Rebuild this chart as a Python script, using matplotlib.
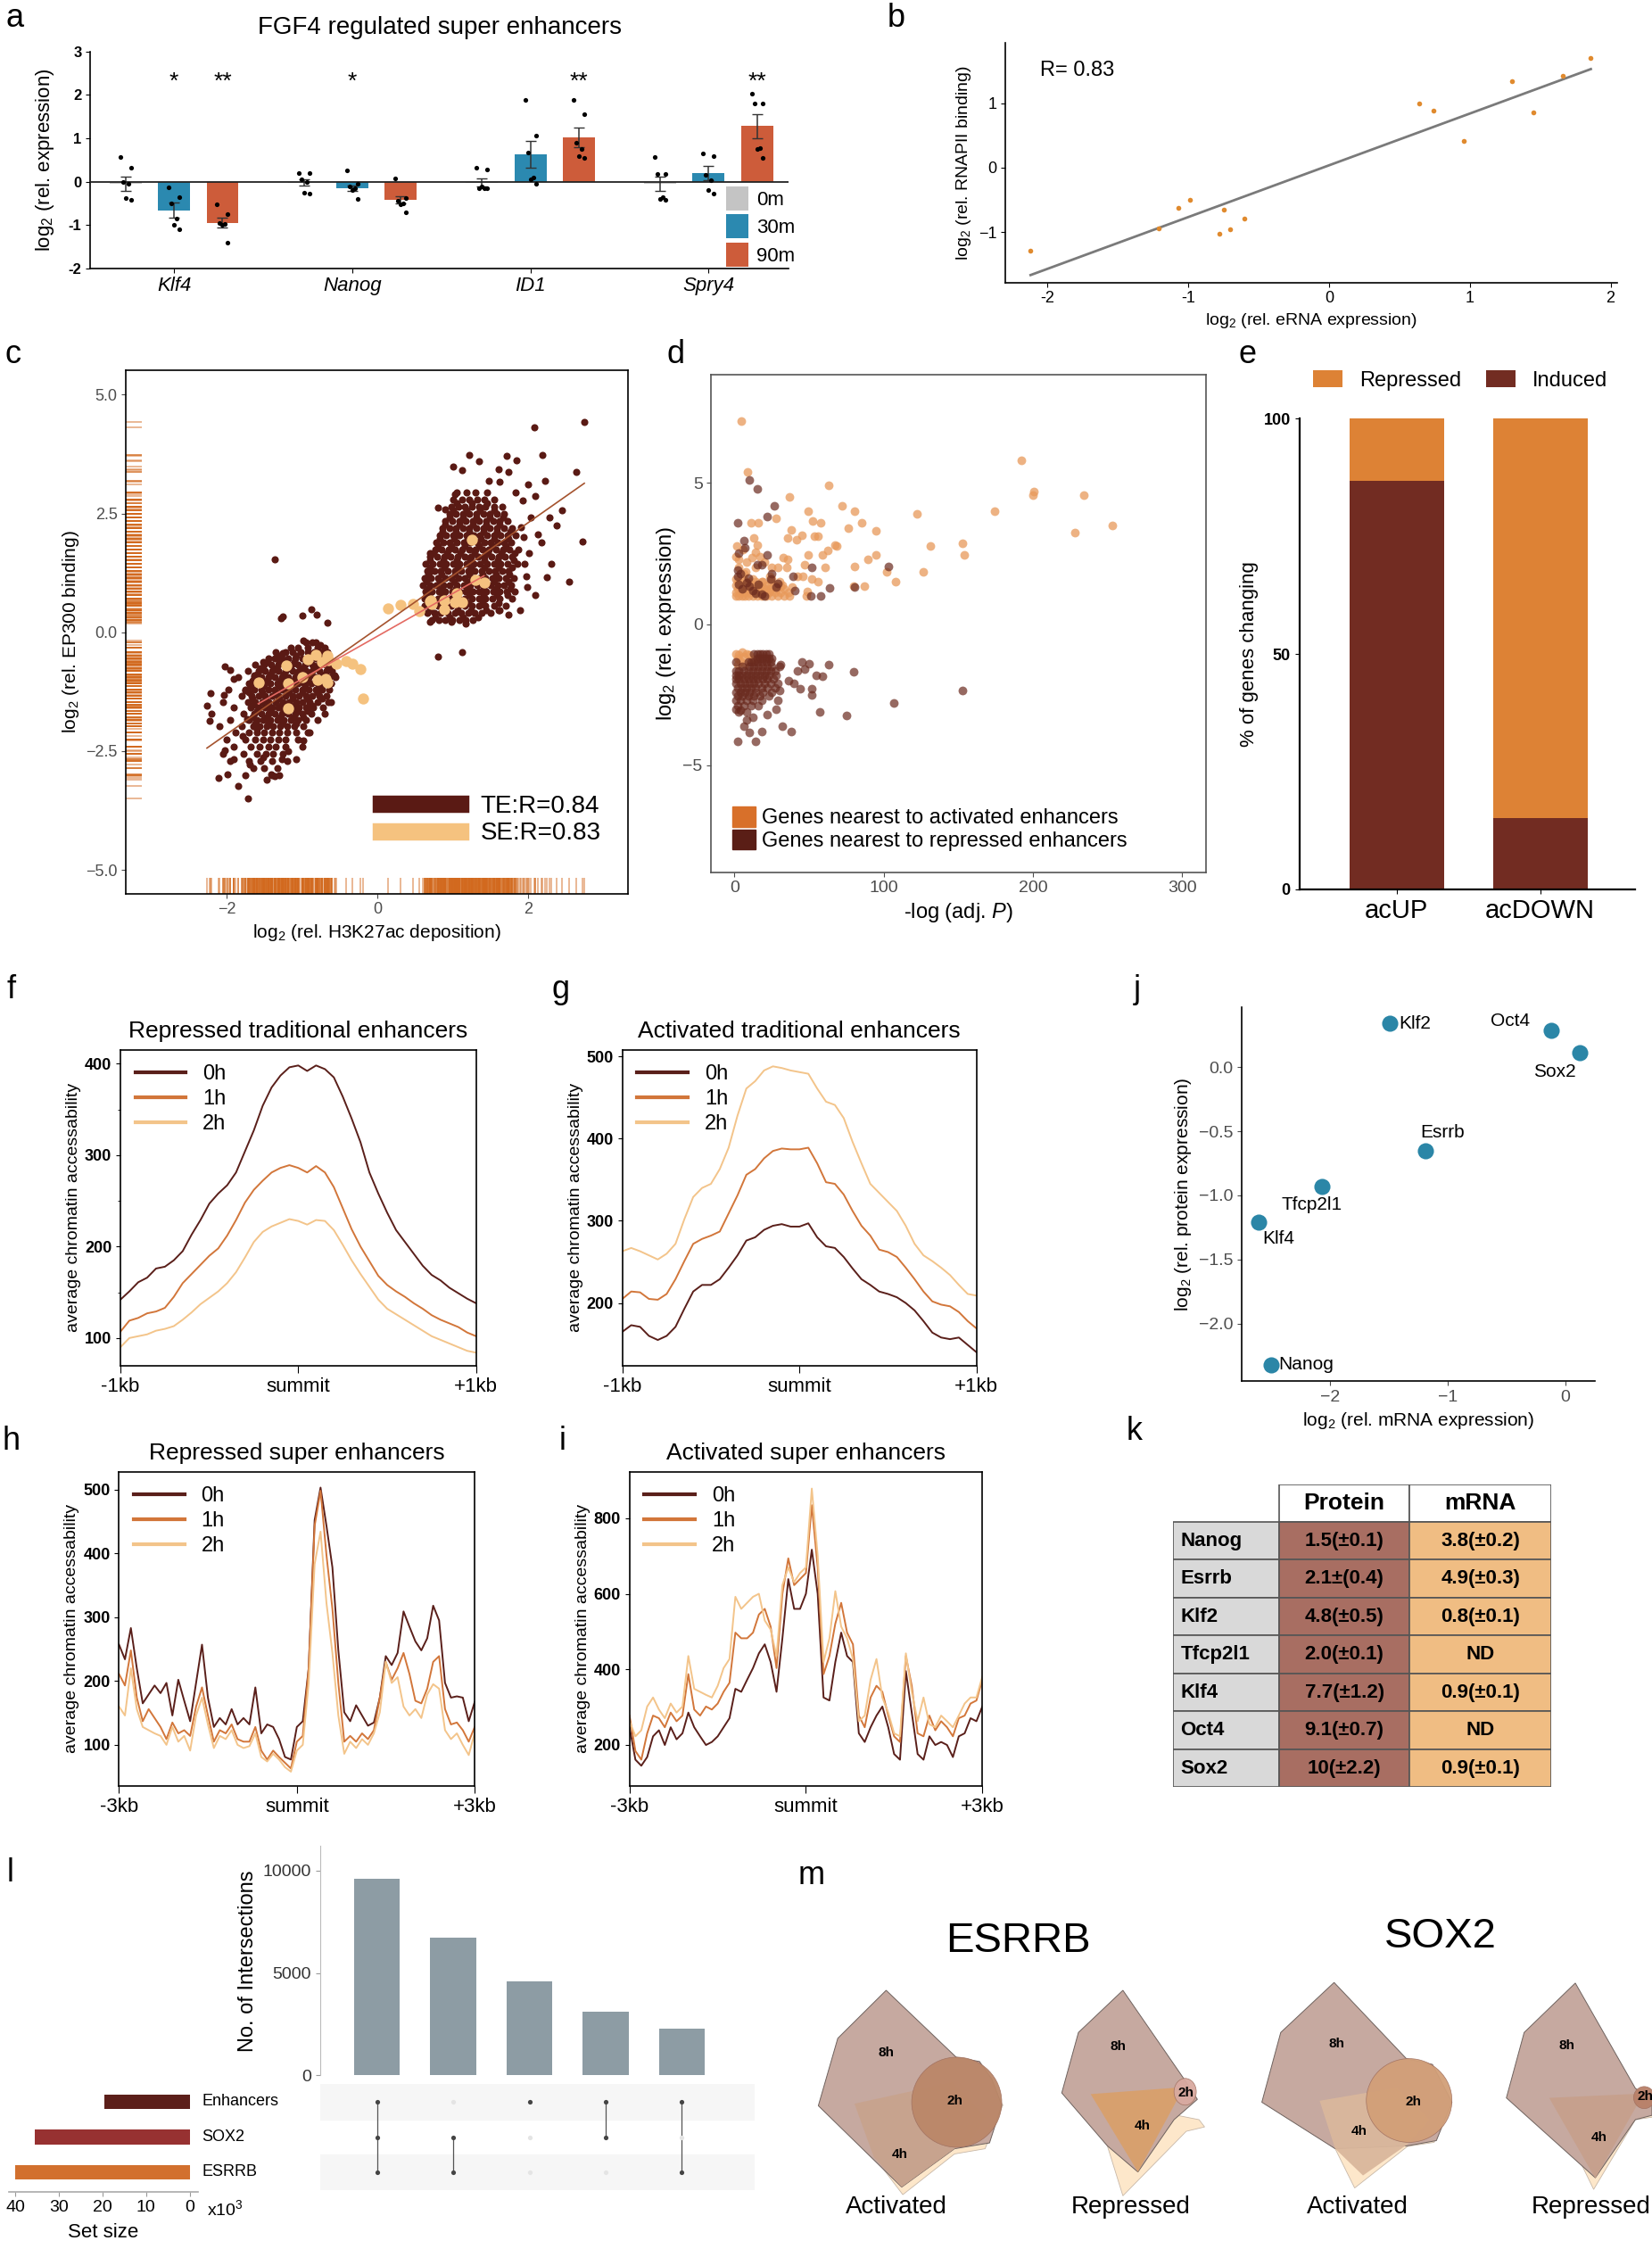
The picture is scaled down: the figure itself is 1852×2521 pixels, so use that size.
import numpy as np
import matplotlib
matplotlib.use("Agg")
import matplotlib.pyplot as plt
from matplotlib.patches import Patch, Polygon, Ellipse
from matplotlib.lines import Line2D
from matplotlib.ticker import FuncFormatter

plt.rcParams['font.family'] = ['Liberation Sans', 'DejaVu Sans']
plt.rcParams['mathtext.fontset'] = 'custom'
plt.rcParams['mathtext.rm'] = 'Liberation Sans'
plt.rcParams['mathtext.it'] = 'Liberation Sans:italic'
plt.rcParams['axes.linewidth'] = 1.2

# ---------------- data ----------------
# a: FGF4 regulated super enhancers
a_genes = ['Klf4', 'Nanog', 'ID1', 'Spry4']
a_times = ['0m', '30m', '90m']
mean_0m = [-0.05, -0.02, -0.02, -0.05]
mean_30m = [-0.66, -0.15, 0.62, 0.20]
mean_90m = [-0.95, -0.42, 1.02, 1.28]
sem_0m = [0.17, 0.08, 0.10, 0.16]
sem_30m = [0.17, 0.06, 0.31, 0.16]
sem_90m = [0.12, 0.08, 0.22, 0.27]
dots_0m = [[0.57, 0.33, 0.0, -0.05, -0.38, -0.42], [0.2, 0.2, 0.05, 0.0, -0.25, -0.28],
           [0.33, 0.28, -0.15, -0.15, -0.12, -0.16], [0.56, 0.17, 0.17, -0.35, -0.4, -0.42]]
dots_30m = [[-0.14, -0.35, -0.5, -0.85, -1.0, -1.1], [0.25, -0.05, -0.12, -0.15, -0.2, -0.4],
            [1.88, 1.07, 0.68, 0.1, 0.05, -0.05], [0.65, 0.58, 0.15, 0.03, -0.2, -0.28]]
dots_90m = [[-0.53, -0.75, -0.95, -0.98, -1.0, -1.41], [0.07, -0.38, -0.45, -0.5, -0.52, -0.7],
            [1.88, 1.55, 0.9, 0.75, 0.58, 0.55], [2.02, 1.8, 1.8, 0.77, 0.75, 0.55]]
a_stars = [['', '*', '**'], ['', '*', ''], ['', '', '**'], ['', '', '**']]

# b: eRNA vs RNAPII
b_x = [-2.12, -1.21, -1.07, -0.99, -0.78, -0.75, -0.70, -0.60, 0.64, 0.74, 0.96, 1.30, 1.45, 1.66, 1.86]
b_y = [-1.28, -0.94, -0.62, -0.50, -1.03, -0.65, -0.96, -0.79, 1.00, 0.89, 0.42, 1.34, 0.85, 1.42, 1.70]

# c: H3K27ac vs EP300 (TE rows: y level, x values)
c_te_lo_rows = [
    (-0.22, [-0.95, -0.82]),
    (-0.32, [-1.15, -1.05, -0.92, -0.80, -0.70]),
    (-0.42, [-1.35, -1.22, -1.12, -1.02, -0.93, -0.84, -0.75, -0.66]),
    (-0.49, [-1.3, -1.08, -0.88, -0.7]),
    (-0.55, [-1.45, -1.36, -1.27, -1.18, -1.09, -1.0, -0.91, -0.82, -0.73, -0.64]),
    (-0.62, [-1.52, -1.3, -1.1, -0.9, -0.68]),
    (-0.68, [-1.62, -1.5, -1.41, -1.32, -1.23, -1.14, -1.05, -0.96, -0.87, -0.78, -0.69, -0.6]),
    (-0.75, [-1.55, -1.35, -1.17, -0.99, -0.81, -0.64]),
    (-0.81, [-1.72, -1.58, -1.49, -1.4, -1.31, -1.22, -1.13, -1.04, -0.95, -0.86, -0.77, -0.68, -0.6]),
    (-0.88, [-1.6, -1.42, -1.24, -1.06, -0.88, -0.7]),
    (-0.94, [-1.85, -1.63, -1.54, -1.45, -1.36, -1.27, -1.18, -1.09, -1.0, -0.91, -0.82, -0.73, -0.64, -0.56]),
    (-1.01, [-1.66, -1.47, -1.29, -1.11, -0.93, -0.75]),
    (-1.07, [-1.7, -1.6, -1.51, -1.42, -1.33, -1.24, -1.15, -1.06, -0.97, -0.88, -0.79, -0.7, -0.62]),
    (-1.14, [-1.68, -1.5, -1.32, -1.14, -0.96, -0.77]),
    (-1.20, [-1.98, -1.75, -1.63, -1.54, -1.45, -1.36, -1.27, -1.18, -1.09, -1.0, -0.91, -0.82, -0.73, -0.64]),
    (-1.27, [-1.71, -1.53, -1.35, -1.17, -0.99, -0.8]),
    (-1.33, [-1.8, -1.67, -1.58, -1.49, -1.4, -1.31, -1.22, -1.13, -1.04, -0.95, -0.86, -0.77, -0.68]),
    (-1.40, [-1.66, -1.48, -1.3, -1.12, -0.94, -0.74]),
    (-1.46, [-2.05, -1.72, -1.62, -1.53, -1.44, -1.35, -1.26, -1.17, -1.08, -0.99, -0.9, -0.8, -0.62]),
    (-1.53, [-1.64, -1.45, -1.27, -1.09, -0.9]),
    (-1.59, [-1.9, -1.68, -1.58, -1.49, -1.4, -1.31, -1.22, -1.13, -1.04, -0.95, -0.85, -0.72]),
    (-1.66, [-1.6, -1.42, -1.24, -1.06, -0.92]),
    (-1.72, [-2.2, -1.78, -1.63, -1.54, -1.45, -1.36, -1.27, -1.18, -1.09, -1.0, -0.88]),
    (-1.79, [-1.66, -1.47, -1.29, -1.11, -0.98]),
    (-1.85, [-1.95, -1.7, -1.6, -1.51, -1.42, -1.33, -1.24, -1.15, -1.06, -0.95, -0.8]),
    (-1.92, [-1.62, -1.44, -1.26, -1.08]),
    (-1.98, [-2.1, -1.8, -1.65, -1.56, -1.47, -1.38, -1.29, -1.2, -1.1, -0.98]),
    (-2.11, [-1.88, -1.7, -1.6, -1.5, -1.4, -1.3, -1.2, -1.08, -0.9]),
    (-2.25, [-2.0, -1.75, -1.62, -1.52, -1.42, -1.32, -1.22, -1.05]),
    (-2.40, [-1.9, -1.68, -1.56, -1.45, -1.35, -1.22, -1.0]),
    (-2.55, [-2.05, -1.78, -1.6, -1.48, -1.38, -1.25]),
    (-2.70, [-1.95, -1.7, -1.55, -1.4, -1.2]),
    (-2.85, [-1.65, -1.5, -1.33]),
    (-3.00, [-1.75, -1.4, -1.3]),
]
c_te_hi_rows = [
    (0.25, [0.72, 0.81, 0.9, 0.99, 1.08, 1.17, 1.26]),
    (0.32, [0.77, 0.95, 1.13, 1.33]),
    (0.40, [0.66, 0.75, 0.84, 0.93, 1.02, 1.11, 1.2, 1.29, 1.38, 1.5]),
    (0.47, [0.7, 0.88, 1.06, 1.24, 1.44, 1.62]),
    (0.55, [0.62, 0.71, 0.8, 0.89, 0.98, 1.07, 1.16, 1.25, 1.34, 1.43, 1.55, 1.7]),
    (0.62, [0.66, 0.85, 1.03, 1.2, 1.39, 1.6]),
    (0.70, [0.62, 0.71, 0.8, 0.89, 0.98, 1.07, 1.16, 1.25, 1.34, 1.43, 1.52, 1.62, 1.78]),
    (0.78, [0.68, 0.86, 1.02, 1.21, 1.4, 1.58, 1.72]),
    (0.85, [0.63, 0.72, 0.81, 0.9, 0.99, 1.08, 1.17, 1.26, 1.35, 1.44, 1.53, 1.62, 1.71, 1.82]),
    (0.92, [0.67, 0.85, 1.04, 1.22, 1.4, 1.57, 1.76]),
    (1.00, [0.6, 0.69, 0.78, 0.87, 0.96, 1.05, 1.14, 1.23, 1.32, 1.41, 1.5, 1.59, 1.68, 1.77]),
    (1.07, [0.65, 0.83, 1.01, 1.19, 1.37, 1.55, 1.73]),
    (1.15, [0.62, 0.71, 0.8, 0.89, 0.98, 1.07, 1.16, 1.25, 1.34, 1.43, 1.52, 1.61, 1.7, 1.8]),
    (1.22, [0.67, 0.85, 1.03, 1.21, 1.39, 1.57, 1.75]),
    (1.30, [0.66, 0.75, 0.84, 0.93, 1.02, 1.11, 1.2, 1.29, 1.38, 1.47, 1.56, 1.65, 1.74]),
    (1.37, [0.7, 0.88, 1.06, 1.24, 1.42, 1.6, 1.78]),
    (1.45, [0.64, 0.73, 0.82, 0.91, 1.0, 1.09, 1.18, 1.27, 1.36, 1.45, 1.54, 1.63, 1.72, 1.85]),
    (1.52, [0.69, 0.87, 1.05, 1.23, 1.41, 1.59, 1.8]),
    (1.60, [0.7, 0.79, 0.88, 0.97, 1.06, 1.15, 1.24, 1.33, 1.42, 1.51, 1.6, 1.69, 1.78]),
    (1.67, [0.74, 0.92, 1.1, 1.28, 1.46, 1.64, 1.82]),
    (1.75, [0.76, 0.85, 0.94, 1.03, 1.12, 1.21, 1.3, 1.39, 1.48, 1.57, 1.66, 1.75, 1.86]),
    (1.82, [0.8, 0.98, 1.16, 1.34, 1.52, 1.7]),
    (1.90, [0.78, 0.87, 0.96, 1.05, 1.14, 1.23, 1.32, 1.41, 1.5, 1.59, 1.68, 1.77]),
    (1.97, [0.83, 1.01, 1.19, 1.37, 1.55, 1.74]),
    (2.05, [0.82, 0.91, 1.0, 1.09, 1.18, 1.27, 1.36, 1.45, 1.54, 1.63, 1.72, 1.83]),
    (2.12, [0.86, 1.04, 1.22, 1.4, 1.58, 1.76]),
    (2.20, [0.86, 0.95, 1.04, 1.13, 1.22, 1.31, 1.4, 1.49, 1.58, 1.67, 1.78]),
    (2.27, [0.9, 1.08, 1.26, 1.44, 1.62]),
    (2.35, [0.9, 0.99, 1.08, 1.17, 1.26, 1.35, 1.44, 1.53, 1.62, 1.72]),
    (2.42, [0.95, 1.13, 1.31, 1.49, 1.66]),
    (2.50, [0.95, 1.04, 1.13, 1.22, 1.31, 1.4, 1.49, 1.58, 1.68]),
    (2.57, [1.0, 1.18, 1.36, 1.54]),
    (2.65, [0.98, 1.07, 1.16, 1.25, 1.34, 1.43, 1.55, 1.65]),
    (2.72, [1.05, 1.25, 1.45]),
    (2.80, [1.0, 1.12, 1.22, 1.32, 1.42, 1.55]),
    (2.95, [1.05, 1.18, 1.3, 1.45]),
]
c_te_extra = [
    (-2.26, -1.55), (-2.21, -1.29), (-2.22, -1.87), (-2.02, -0.72), (-1.95, -0.79), (-2.03, -1.32),
    (-1.90, -0.99), (-2.02, -2.49), (-2.11, -3.06), (-1.99, -2.99), (-1.85, -3.23), (-1.72, -3.50),
    (-1.91, -2.67), (-1.79, -2.19), (-1.73, -1.83), (-1.69, -2.79), (-1.60, -2.03), (-1.52, -2.63),
    (-1.47, -3.11), (-1.41, -2.99), (-1.36, -3.03), (-1.27, -2.67), (-1.19, -2.51), (-1.08, -2.67),
    (-0.98, -2.27), (-0.92, -2.11), (-0.87, -1.55), (-0.70, -1.71), (-0.65, -1.47), (-0.62, -1.07),
    (-0.57, -0.91), (-0.60, -0.67), (-0.76, -0.26), (-0.87, -0.22), (-0.98, -0.18), (-1.25, -0.43),
    (-1.46, -0.63), (-1.63, -0.91), (-1.75, -1.23), (-1.36, 1.54), (-1.28, 0.30), (-1.26, 0.33),
    (-1.00, 0.35), (-0.88, 0.48), (-0.81, 0.38), (-0.67, 0.20), (0.80, -0.51), (1.12, -0.41),
    (0.80, 2.62), (0.89, 2.58), (1.03, 2.90), (1.00, 3.49), (1.12, 3.41), (1.22, 3.74), (1.34, 3.61),
    (1.71, 3.72), (1.84, 3.62), (1.60, 3.44), (1.73, 3.38), (1.48, 3.18), (1.62, 3.17), (1.83, 2.94),
    (2.00, 3.12), (2.09, 2.86), (2.22, 3.18), (2.18, 3.74), (2.08, 4.32), (2.63, 3.37), (2.74, 4.43),
    (2.44, 2.56), (2.37, 2.25), (2.28, 2.42), (2.12, 2.06), (2.17, 1.90), (2.30, 1.44), (2.24, 1.16),
    (2.09, 0.79), (2.54, 1.06), (2.72, 1.92), (1.97, 1.18), (1.89, 0.46), (1.73, 0.38), (1.60, 0.46),
    (0.70, 1.66), (0.68, 1.26), (0.65, 0.78), (0.70, 0.22), (0.84, 0.86), (0.98, 0.22), (1.17, 0.18),
    (2.01, 1.66), (1.90, 2.22), (2.03, 2.42), (1.92, 2.78), (1.95, 1.45), (1.98, 0.95), (1.93, 2.0),
]
c_se = [
    (-1.58, -1.05), (-1.21, -0.69), (-1.19, -1.07), (-1.18, -1.60), (-0.99, -0.95), (-0.93, -0.56),
    (-0.82, -0.47), (-0.80, -1.00), (-0.74, -0.63), (-0.67, -0.49), (-0.65, -0.59), (-0.69, -0.99),
    (-0.66, -1.05), (-0.55, -0.67), (-0.42, -0.61), (-0.33, -0.67), (-0.23, -0.77), (-0.19, -1.40),
    (0.14, 0.50), (0.31, 0.57), (0.47, 0.59), (0.55, 0.44), (0.71, 0.68), (0.72, 0.60), (0.88, 0.49),
    (0.88, 0.68), (1.03, 0.64), (1.05, 0.83), (1.12, 0.64), (1.25, 1.94), (1.30, 1.10), (1.41, 1.04),
    (0.70, 0.66),
]

# d: expression vs significance
d_act = [
    (4.2, 7.2), (8.9, 5.4), (36.7, 4.5), (62.8, 4.9), (71.9, 4.2), (80.5, 4.0), (49.2, 4.0), (122, 3.9),
    (174, 4.0), (192, 5.8), (200.5, 4.7), (200, 4.55), (234, 4.55), (228, 3.25), (253, 3.5), (153, 2.85),
    (154, 2.45), (131, 2.75), (126.5, 1.85), (108, 1.5), (102, 1.85), (94.5, 3.3), (94.5, 2.45),
    (89.6, 2.3), (85, 3.6), (80.5, 2.05), (80, 1.35), (87, 1.35), (76.3, 3.4), (67.2, 2.8), (68.5, 2.75),
    (62.5, 2.6), (60.4, 2.0), (58.9, 2.45), (58, 3.6), (52.6, 3.65), (56, 3.1), (53.6, 3.1), (49.2, 2.45),
    (47, 2.1), (56, 1.5), (51.8, 1.6), (45, 3.15), (46, 1.7), (42, 1.7), (41.7, 3.0), (48.7, 1.15),
    (48, 1.0), (35.7, 3.06), (37.8, 3.33), (38.3, 1.32), (35, 2.0), (35.4, 2.3), (32.6, 2.35), (31, 1.35),
    (28, 3.75), (29, 2.02), (23.4, 1.7), (24.7, 2.0), (16, 3.6), (11, 3.6), (12.8, 3.06), (15.4, 2.8),
    (14, 2.55), (11.5, 2.34), (7.3, 1.85), (5.5, 2.65), (1.6, 2.77), (2.6, 2.3), (6.3, 1.8), (15.4, 1.3),
    (21, 1.26), (23.4, 1.15), (20, 2.2), (17, 2.4), (3, 2.0), (8, 2.2), (1, 1.6), (6, 1.55), (12, 1.6),
    (18, 1.5), (25, 1.6), (1, 2.4), (14, 2.0),
    (1, -1.05), (3, -1.1), (5, -1.0), (2, -1.2), (4, -1.3), (6, -1.15), (8, -1.05), (2, -1.45),
    (10, -1.1), (12, -1.25), (7, -1.4),
]
d_act_rows = [
    (1.0, [1, 3, 5, 7, 9, 12, 15, 18, 21, 25, 29, 33, 37]),
    (1.12, [1, 4, 7, 10, 13, 16, 19, 23, 27, 31, 36]),
    (1.25, [2, 5, 8, 11, 14, 17, 20, 24, 28, 33]),
    (1.38, [1, 4, 7, 10, 13, 17, 22, 27, 32]),
    (1.5, [2, 6, 10, 14, 19, 24, 30]),
]
d_rep = [
    (9.6, 5.1), (15, 4.8), (26.6, 4.2), (103, 2.05), (80.2, 1.3), (63.5, 1.27), (51.6, 2.0), (40.4, 1.2),
    (51.3, 1.0), (57.6, 1.0), (39, 1.68), (29, 1.45), (25, 1.8), (22, 3.8), (22, 2.45), (15.4, 2.1),
    (18.5, 2.1), (6, 2.95), (7, 2.7), (2.3, 3.57), (2.6, 2.5), (2.3, 1.9), (9, 1.63), (8, 1.46), (10, 1.35),
    (18.2, 1.05), (3, 1.4), (5, 1.25), (14, 1.1), (16, 1.4), (24, 1.6), (28, 1.3), (4, 1.8), (2, 1.7),
    (12, 1.2), (20, 1.0),
    (153, -2.35), (107, -2.8), (75, -3.25), (57, -3.1), (80, -1.7), (63, -1.45), (59, -1.85), (55, -1.8),
    (52, -2.3), (52, -2.5), (50, -1.4), (47, -1.6), (45, -1.35), (44, -2.3), (42, -1.65), (40, -2.1),
    (38, -3.8), (36, -2.0), (32, -3.6), (31, -1.45), (30, -2.35), (29, -2.7), (28, -3.0), (22, -3.2),
    (18, -3.8), (14, -4.15), (10, -3.85), (6, -3.6), (2, -4.15), (8, -3.4), (12, -3.3), (4, -3.05),
    (1, -3.0),
]
d_rep_rows = [
    (-1.05, [13, 15, 17, 19, 21, 23]),
    (-1.2, [15, 17, 19, 21, 23, 25]),
    (-1.35, [1, 9, 11, 13, 15, 18, 21, 24]),
    (-1.5, [5, 10, 13, 16, 19, 22, 25, 30]),
    (-1.65, [1, 3, 6, 9, 12, 15, 18, 21, 24, 27]),
    (-1.8, [1, 3, 5, 8, 11, 14, 17, 20, 23, 28]),
    (-1.95, [1, 3, 6, 9, 12, 15, 19, 22, 26]),
    (-2.1, [1, 4, 7, 10, 13, 16, 20, 24, 29]),
    (-2.25, [2, 5, 8, 11, 14, 18, 22, 27]),
    (-2.4, [1, 4, 7, 10, 14, 19, 25]),
    (-2.55, [2, 5, 9, 13, 17, 23]),
    (-2.7, [1, 4, 8, 12, 18]),
    (-2.9, [2, 6, 11, 16]),
    (-3.1, [3, 8]),
]

# e: % of genes changing
e_groups = ['acUP', 'acDOWN']
e_induced = [86.9, 15.1]
e_repressed = [13.1, 84.9]

# f-i: accessibility profiles
f_0h = [142, 151, 161, 166, 176, 178, 185, 195, 213, 229, 247, 258, 267, 281, 304, 327, 354, 374, 387, 396,
        398, 392, 398, 394, 385, 364, 340, 314, 281, 258, 237, 218, 205, 192, 179, 169, 163, 155, 149, 143, 138]
f_1h = [107, 119, 122, 127, 129, 133, 145, 160, 170, 180, 190, 198, 212, 229, 248, 262, 272, 281, 286, 289,
        286, 281, 288, 281, 265, 242, 219, 200, 184, 168, 158, 151, 145, 138, 132, 125, 120, 116, 112, 106, 102]
f_2h = [90, 100, 102, 104, 108, 110, 113, 120, 128, 137, 144, 151, 160, 172, 188, 205, 216, 222, 226, 230,
        228, 224, 229, 228, 218, 202, 185, 170, 156, 142, 132, 126, 120, 114, 108, 102, 98, 94, 90, 86, 84]
g_0h = [165, 173, 171, 160, 155, 160, 171, 193, 214, 222, 222, 229, 243, 258, 276, 280, 289, 294, 296, 293,
        293, 297, 280, 269, 267, 256, 242, 229, 222, 214, 211, 207, 200, 191, 178, 164, 158, 156, 158, 149, 140]
g_1h = [205, 214, 213, 205, 204, 211, 229, 251, 272, 278, 282, 287, 309, 331, 356, 363, 376, 385, 388, 387,
        387, 389, 370, 347, 345, 332, 312, 294, 282, 265, 262, 256, 243, 229, 214, 202, 198, 196, 189, 178, 169]
g_2h = [263, 267, 263, 258, 253, 260, 272, 302, 329, 340, 345, 363, 389, 428, 461, 470, 483, 488, 486, 483,
        481, 479, 461, 445, 441, 425, 396, 370, 345, 334, 323, 312, 294, 272, 258, 251, 243, 234, 222, 211, 209]
h_0h = [257, 234, 283, 220, 165, 179, 193, 181, 197, 146, 202, 169, 137, 197, 257, 174, 128, 142, 132, 156,
        132, 142, 132, 190, 118, 132, 128, 109, 81, 77, 128, 137, 220, 452, 503, 443, 378, 248, 151, 137,
        162, 146, 130, 135, 174, 239, 225, 244, 309, 285, 262, 248, 267, 318, 295, 197, 174, 176, 174, 137, 167]
h_1h = [211, 193, 248, 174, 137, 156, 142, 128, 109, 135, 118, 123, 114, 160, 190, 146, 105, 123, 118, 132,
        109, 105, 105, 128, 91, 77, 91, 81, 72, 63, 105, 114, 220, 443, 498, 397, 313, 197, 105, 114,
        105, 118, 109, 123, 174, 230, 202, 220, 244, 211, 169, 165, 188, 230, 239, 156, 132, 135, 123, 105, 128]
h_2h = [160, 146, 220, 156, 128, 123, 118, 114, 100, 128, 105, 114, 91, 146, 174, 132, 95, 114, 109, 123,
        100, 95, 98, 118, 81, 74, 86, 77, 65, 58, 91, 100, 197, 383, 434, 322, 244, 146, 86, 105,
        95, 109, 100, 118, 151, 230, 197, 206, 160, 146, 156, 142, 179, 195, 188, 123, 109, 118, 100, 84, 118]
i_0h = [246, 160, 144, 167, 222, 238, 199, 246, 214, 230, 285, 246, 222, 199, 207, 222, 246, 270, 348, 340,
        372, 403, 442, 466, 419, 340, 482, 639, 560, 560, 600, 717, 600, 325, 317, 419, 497, 435, 419, 230,
        207, 246, 277, 301, 246, 175, 160, 395, 285, 175, 160, 222, 199, 207, 199, 167, 222, 230, 270, 262, 301]
i_1h = [277, 183, 160, 230, 277, 270, 246, 285, 262, 277, 387, 293, 277, 301, 293, 309, 340, 364, 497, 482,
        482, 497, 545, 560, 513, 403, 600, 694, 623, 639, 655, 835, 670, 387, 435, 521, 576, 497, 466, 277,
        246, 325, 356, 340, 277, 222, 207, 435, 356, 230, 222, 277, 238, 262, 246, 222, 270, 277, 309, 317, 372]
i_2h = [262, 222, 238, 301, 325, 293, 270, 309, 285, 301, 435, 348, 340, 332, 325, 356, 403, 427, 592, 560,
        576, 592, 600, 529, 505, 435, 623, 670, 631, 655, 670, 879, 702, 419, 482, 607, 513, 482, 427, 262,
        277, 372, 427, 325, 285, 230, 222, 442, 340, 262, 325, 254, 246, 277, 262, 246, 277, 309, 325, 325, 380]

# j: mRNA vs protein
j_genes = ['Klf2', 'Oct4', 'Sox2', 'Esrrb', 'Tfcp2l1', 'Klf4', 'Nanog']
j_mrna = [-1.49, -0.12, 0.12, -1.19, -2.07, -2.61, -2.50]
j_protein = [0.34, 0.29, 0.11, -0.655, -0.93, -1.21, -2.32]

# k: half-life table
k_genes = ['Nanog', 'Esrrb', 'Klf2', 'Tfcp2l1', 'Klf4', 'Oct4', 'Sox2']
k_protein = ['1.5(±0.1)', '2.1±(0.4)', '4.8(±0.5)', '2.0(±0.1)', '7.7(±1.2)', '9.1(±0.7)', '10(±2.2)']
k_mrna = ['3.8(±0.2)', '4.9(±0.3)', '0.8(±0.1)', 'ND', '0.9(±0.1)', 'ND', '0.9(±0.1)']

# l: upset
l_sets = ['Enhancers', 'SOX2', 'ESRRB']
l_set_size = [19.6, 35.6, 40.0]   # x10^3
l_counts = [9620, 6740, 4570, 3120, 2270]
l_members = [[1, 1, 1], [0, 1, 1], [1, 0, 0], [1, 1, 0], [1, 0, 1]]

# m: overlap shapes (ESRRB act, ESRRB rep, SOX2 act, SOX2 rep)
m_cream = [
    [(165, 1140), (212, 1258), (305, 1118), (360, 1100), (392, 950), (350, 800), (300, 870)],
    [(560, 930), (745, 1000), (755, 1025), (722, 1040), (608, 1262), (580, 1090)],
    [(990, 1100), (1025, 1235), (1120, 1092), (1168, 1078), (1200, 940), (1100, 890)],
    [(1375, 925), (1455, 1240), (1530, 1000), (1565, 990), (1560, 940)],
]
m_8h = [
    [(182, 555), (308, 785), (350, 800), (372, 860), (390, 950), (368, 1080), (305, 1100), (210, 1232), (60, 952), (95, 720)],
    [(608, 555), (718, 860), (742, 930), (700, 1000), (635, 1180), (580, 1090), (498, 908), (528, 700)],
    [(988, 528), (1118, 790), (1165, 810), (1200, 940), (1172, 1072), (1120, 1090), (990, 1100), (858, 940), (892, 700)],
    [(1422, 530), (1530, 892), (1560, 935), (1560, 985), (1530, 1000), (1458, 1200), (1298, 925), (1330, 700)],
]
m_4h = [
    [(125, 945), (300, 872), (360, 990), (330, 1080), (305, 1100), (210, 1232), (160, 1130)],
    [(550, 912), (718, 888), (635, 1180)],
    [(962, 935), (1100, 890), (1160, 1000), (1120, 1085), (1040, 1192), (990, 1100)],
    [(1375, 925), (1545, 910), (1458, 1202)],
]
m_2h_center = [(309, 940), (720, 904), (1123, 934), (1546, 924)]
m_2h_size = [(162, 310), (40, 92), (154, 288), (38, 76)]
m_label_8h = [(182, 770), (600, 748), (993, 740), (1407, 745)]
m_label_4h = [(207, 1120), (643, 1020), (1033, 1040), (1465, 1060)]
m_label_2h = [(305, 935), (722, 908), (1130, 940), (1548, 920)]
m_4h_colors = ['#c8a38e', '#d9a06c', '#dab79c', '#c6a08c']
m_2h_colors = ['#bb8768', '#d8aaa0', '#d29f78', '#b98068']

# ---------------- drawing ----------------
W, H = 1152.0, 1568.0


def box(l, t, r, b):
    return [l / W, 1 - b / H, (r - l) / W, (b - t) / H]


def minus(fmt):
    return FuncFormatter(lambda v, p: fmt.format(v).replace('-', '\u2212'))


fig = plt.figure(figsize=(18.52, 25.21), dpi=100)

for lab, (px, py) in {'a': (10, 13), 'b': (625, 13), 'c': (9, 247), 'd': (471, 247), 'e': (870, 247),
                      'f': (8, 690), 'g': (391, 690), 'j': (793, 690), 'h': (8, 1005), 'i': (392, 1005),
                      'k': (791, 998), 'l': (7, 1306), 'm': (566, 1308)}.items():
    fig.text(px / W, 1 - py / H, lab, fontsize=26, ha='center', va='center')

GREY = '#4d4d4d'

# ---- a ----
ax = fig.add_axes(box(63, 36, 550, 187))
a_cols = ['#c4c4c4', '#2b89b0', '#cd5c3a']
jit = np.array([-0.03, 0.03, -0.015, 0.015, 0.0, 0.03])
xg = np.arange(len(a_genes))
for j, (m, e, d, c) in enumerate(zip([mean_0m, mean_30m, mean_90m], [sem_0m, sem_30m, sem_90m],
                                     [dots_0m, dots_30m, dots_90m], a_cols)):
    xs = xg + (j - 1) * 0.272
    ax.bar(xs, m, width=0.18, color=c, zorder=2, label=a_times[j])
    ax.errorbar(xs, m, yerr=e, fmt='none', ecolor='#333333', elinewidth=1.1, capsize=4, zorder=3)
    for xi, vals in zip(xs, d):
        ax.scatter(xi + jit[:len(vals)], vals, s=14, color='black', zorder=4, lw=0)
    for i in range(len(a_genes)):
        if a_stars[i][j]:
            ax.text(xs[i], 2.3, a_stars[i][j], ha='center', va='center', fontsize=19)
ax.axhline(0, color='#222222', lw=1.3, zorder=3)
ax.set_xlim(-0.47, 3.45)
ax.set_ylim(-2, 3)
ax.set_xticks(xg)
ax.set_xticklabels(a_genes, fontsize=16, style='italic')
ax.set_yticks([-2, -1, 0, 1, 2, 3])
ax.set_yticklabels(['-2', '-1', '0', '1', '2', '3'], fontsize=12, fontweight='bold')
for s in ['top', 'right']:
    ax.spines[s].set_visible(False)
ax.set_ylabel('log$_2$ (rel. expression)', fontsize=16, labelpad=10)
ax.set_title('FGF4 regulated super enhancers', fontsize=20, pad=14)
ax.legend(loc='lower right', bbox_to_anchor=(1.02, -0.03), fontsize=16, frameon=False,
          handlelength=1.1, handleheight=1.5, handletextpad=0.4, labelspacing=0.2, borderaxespad=0)

# ---- b ----
ax = fig.add_axes(box(701, 30, 1128, 197))
ax.scatter(b_x, b_y, s=16, color='#e08a2e', zorder=3, lw=0)
kb, cb = np.polyfit(b_x, b_y, 1)
xx = np.array([min(b_x), max(b_x)])
ax.plot(xx, kb * xx + cb, color='#7a7a7a', lw=2)
ax.set_xlim(-2.3, 2.05)
ax.set_ylim(-1.78, 1.93)
ax.set_xticks([-2, -1, 0, 1, 2])
ax.set_xticklabels(['-2', '-1', '0', '1', '2'])
ax.set_yticks([-1, 0, 1])
ax.tick_params(labelsize=13)
for s in ['top', 'right']:
    ax.spines[s].set_visible(False)
ax.text(-2.05, 1.5, 'R= 0.83', fontsize=17, va='center')
ax.set_xlabel('log$_2$ (rel. eRNA expression)', fontsize=14)
ax.set_ylabel('log$_2$ (rel. RNAPII binding)', fontsize=14)

# ---- c ----
ax = fig.add_axes(box(88, 258, 438, 623))
te_pts = [(x, y) for y, xs in c_te_lo_rows + c_te_hi_rows for x in xs] + c_te_extra
te_x, te_y = np.array(te_pts).T
se_x, se_y = np.array(c_se).T
all_x = np.concatenate([te_x, se_x])
all_y = np.concatenate([te_y, se_y])
ax.vlines(all_x, 0, 0.03, transform=ax.get_xaxis_transform(), color='#d2691e', lw=1.1, alpha=0.6)
ax.hlines(all_y, 0, 0.032, transform=ax.get_yaxis_transform(), color='#d2691e', lw=1.1, alpha=0.6)
ax.scatter(te_x, te_y, s=34, color='#5a1a14', lw=0, zorder=2)
ax.scatter(se_x, se_y, s=80, color='#f5c27f', lw=0, zorder=3)
k1, c1 = np.polyfit(te_x, te_y, 1)
xx = np.array([te_x.min(), te_x.max()])
ax.plot(xx, k1 * xx + c1, color='#a5532e', lw=1.2, zorder=4)
k2, c2 = np.polyfit(se_x, se_y, 1)
xx = np.array([se_x.min(), se_x.max()])
ax.plot(xx, k2 * xx + c2, color='#e46a62', lw=1.2, zorder=4)
ax.set_xlim(-3.33, 3.32)
ax.set_ylim(-5.5, 5.52)
ax.set_xticks([-2, 0, 2])
ax.set_yticks([-5, -2.5, 0, 2.5, 5])
ax.xaxis.set_major_formatter(minus('{:.0f}'))
ax.yaxis.set_major_formatter(minus('{:.1f}'))
ax.tick_params(labelsize=13, labelcolor=GREY, color=GREY)
ax.set_xlabel('log$_2$ (rel. H3K27ac deposition)', fontsize=15)
ax.set_ylabel('log$_2$ (rel. EP300 binding)', fontsize=15)
ax.legend(handles=[Line2D([], [], color='#5a1a14', lw=14), Line2D([], [], color='#f5c27f', lw=14)],
          labels=['TE:R=0.84', 'SE:R=0.83'], loc='lower right', bbox_to_anchor=(0.99, 0.05),
          fontsize=20, frameon=False, handlelength=3.2, labelspacing=0.15, handletextpad=0.8)

# ---- d ----
ax = fig.add_axes(box(496, 261, 841, 608))
act = d_act + [(x, y) for y, xs in d_act_rows for x in xs]
rep = d_rep + [(x, y) for y, xs in d_rep_rows for x in xs]
ax.scatter(*np.array(act).T, s=50, color='#e8995a', alpha=0.75, lw=0, zorder=2)
ax.scatter(*np.array(rep).T, s=50, color='#6a2a1e', alpha=0.7, lw=0, zorder=3)
ax.set_xlim(-15.6, 316)
ax.set_ylim(-8.78, 8.84)
ax.set_xticks([0, 100, 200, 300])
ax.set_yticks([-5, 0, 5])
ax.yaxis.set_major_formatter(minus('{:.0f}'))
ax.tick_params(labelsize=14, labelcolor=GREY, color=GREY)
for s in ax.spines.values():
    s.set_color('#555555')
ax.set_xlabel('-log (adj. $\\mathit{P}$)', fontsize=17)
ax.set_ylabel('log$_2$ (rel. expression)', fontsize=17)
ax.legend(handles=[Patch(color='#d8702a'), Patch(color='#5a1e16')],
          labels=['Genes nearest to activated enhancers', 'Genes nearest to repressed enhancers'],
          loc='lower left', fontsize=17, frameon=False, handlelength=1.1, handleheight=1.1,
          handletextpad=0.3, labelspacing=0.05, borderaxespad=0.6)

# ---- e ----
ax = fig.add_axes(box(906, 292, 1140, 620))
xe = np.arange(len(e_groups))
ax.bar(xe, e_induced, width=0.66, color='#722c22', label='Induced')
ax.bar(xe, e_repressed, bottom=e_induced, width=0.66, color='#dd8235', label='Repressed')
ax.set_xlim(-0.68, 1.66)
ax.set_ylim(0, 100)
ax.set_yticks([0, 50, 100])
ax.set_yticklabels(['0', '50', '100'], fontsize=13, fontweight='bold')
ax.set_xticks(xe)
ax.set_xticklabels(e_groups, fontsize=21)
for s in ['top', 'right']:
    ax.spines[s].set_visible(False)
ax.spines['left'].set_linewidth(1.6)
ax.spines['bottom'].set_linewidth(1.6)
ax.set_ylabel('% of genes changing', fontsize=16)
hd, lb = ax.get_legend_handles_labels()
ax.legend(hd[::-1], lb[::-1], loc='lower center', bbox_to_anchor=(0.48, 1.02), ncol=2, fontsize=17,
          frameon=False, handlelength=1.4, handleheight=0.9, columnspacing=1.2)

# ---- f-i ----
prof_cols = ['#5a1f1a', '#d2763a', '#f3c48a']


def profile(rect, title, curves, xlim, xlab, ylim, yticks, minor):
    ax = fig.add_axes(box(*rect))
    xv = np.linspace(xlim[0], xlim[1], len(curves[0]))
    for lab, yv, c in zip(['0h', '1h', '2h'], curves, prof_cols):
        ax.plot(xv, yv, color=c, lw=1.4, label=lab)
    ax.set_xlim(*xlim)
    ax.set_ylim(*ylim)
    ax.set_xticks([xlim[0], 0, xlim[1]])
    ax.set_xticklabels(xlab, fontsize=16)
    ax.set_yticks(yticks)
    ax.set_yticklabels([str(v) for v in yticks], fontsize=13, fontweight='bold')
    if minor:
        ax.set_yticks(minor, minor=True)
    ax.tick_params(axis='x', length=6)
    ax.set_title(title, fontsize=19, pad=10)
    ax.set_ylabel('average chromatin accessability', fontsize=14, labelpad=3)
    leg = ax.legend(loc='upper left', fontsize=17, frameon=False, handlelength=2.4,
                    labelspacing=0.25, borderaxespad=0.3)
    for ln in leg.get_lines():
        ln.set_linewidth(3)
    return ax


profile((84, 732, 332, 952), 'Repressed traditional enhancers', [f_0h, f_1h, f_2h], (-1000, 1000),
        ['-1kb', 'summit', '+1kb'], (70, 415), [100, 200, 300, 400], [150, 250, 350])
profile((434, 732, 681, 952), 'Activated traditional enhancers', [g_0h, g_1h, g_2h], (-1000, 1000),
        ['-1kb', 'summit', '+1kb'], (124, 508), [200, 300, 400, 500], None)
profile((83, 1026, 331, 1245), 'Repressed super enhancers', [h_0h, h_1h, h_2h], (-3, 3),
        ['-3kb', 'summit', '+3kb'], (36, 528), [100, 200, 300, 400, 500], None)
profile((439, 1026, 685, 1245), 'Activated super enhancers', [i_0h, i_1h, i_2h], (-3, 3),
        ['-3kb', 'summit', '+3kb'], (91, 924), [200, 400, 600, 800], None)

# ---- j ----
ax = fig.add_axes(box(866, 702, 1112, 963))
ax.scatter(j_mrna, j_protein, s=170, color='#2b86a7', lw=0, zorder=3)
offs = {'Klf2': (7, 0, 'left'), 'Oct4': (-33, 7, 'center'), 'Sox2': (-20, -15, 'center'),
        'Esrrb': (14, 15, 'center'), 'Tfcp2l1': (-8, -15, 'center'), 'Klf4': (16, -13, 'center'),
        'Nanog': (6, 0, 'left')}
for g, xm, yp in zip(j_genes, j_mrna, j_protein):
    dx, dy, ha = offs[g]
    ax.annotate(g, (xm, yp), xytext=(dx, dy), textcoords='offset points', ha=ha, va='center', fontsize=15)
ax.set_xlim(-2.75, 0.25)
ax.set_ylim(-2.45, 0.47)
ax.set_xticks([-2, -1, 0])
ax.set_yticks([-2.0, -1.5, -1.0, -0.5, 0.0])
ax.xaxis.set_major_formatter(minus('{:.0f}'))
ax.yaxis.set_major_formatter(minus('{:.1f}'))
ax.tick_params(labelsize=14, labelcolor=GREY, color=GREY)
for s in ['top', 'right']:
    ax.spines[s].set_visible(False)
ax.set_xlabel('log$_2$ (rel. mRNA expression)', fontsize=15)
ax.set_ylabel('log$_2$ (rel. protein expression)', fontsize=15)

# ---- k ----
ax = fig.add_axes(box(818, 1035, 1082, 1246))
ax.set_xlim(0, 1)
ax.set_ylim(1, 0)
ax.axis('off')
cols = [0, 0.28, 0.625, 1.0]
hh = 0.123
rh = (1 - hh) / len(k_genes)
for ci, txt in [(1, 'Protein'), (2, 'mRNA')]:
    ax.add_patch(plt.Rectangle((cols[ci], 0), cols[ci + 1] - cols[ci], hh, fc='white', ec='#555555', lw=1.2))
    ax.text((cols[ci] + cols[ci + 1]) / 2, hh / 2, txt, ha='center', va='center', fontsize=19, fontweight='bold')
for r, (g, p, m) in enumerate(zip(k_genes, k_protein, k_mrna)):
    y0 = hh + r * rh
    for ci, (txt, fc) in enumerate([(g, '#d9d9d9'), (p, '#a86e62'), (m, '#f0bd83')]):
        ax.add_patch(plt.Rectangle((cols[ci], y0), cols[ci + 1] - cols[ci], rh, fc=fc, ec='#555555', lw=1.2))
        if ci == 0:
            ax.text(cols[0] + 0.02, y0 + rh / 2, txt, ha='left', va='center', fontsize=16, fontweight='bold')
        else:
            ax.text((cols[ci] + cols[ci + 1]) / 2, y0 + rh / 2, txt, ha='center', va='center',
                    fontsize=16, fontweight='bold')

# ---- l ----
set_cols = ['#5c1f1a', '#973131', '#d2702e']
ax = fig.add_axes(box(223, 1287, 526, 1447))
xl = np.arange(len(l_counts))
ax.bar(xl, l_counts, width=0.6, color='#8d9ca4')
ax.set_xlim(-0.75, 4.95)
ax.set_ylim(0, 11200)
ax.set_xticks([])
ax.set_yticks([0, 5000, 10000])
ax.tick_params(labelsize=14, labelcolor='#333333', color='#999999')
for s in ['top', 'right', 'bottom']:
    ax.spines[s].set_visible(False)
ax.spines['left'].set_color('#bbbbbb')
ax.spines['left'].set_linewidth(0.8)
ax.set_ylabel('No. of Intersections', fontsize=17)

ax = fig.add_axes(box(223, 1453, 526, 1527))
ax.set_xlim(-0.75, 4.95)
ax.set_ylim(2.5, -0.5)
ax.axis('off')
for r in [0, 2]:
    ax.axhspan(r - 0.5, r + 0.5, color='#f6f6f6', zorder=0)
for c, mem in enumerate(l_members):
    rows = [r for r, v in enumerate(mem) if v]
    if len(rows) > 1:
        ax.plot([c, c], [min(rows), max(rows)], color='#555555', lw=0.9, zorder=1)
    for r, v in enumerate(mem):
        ax.scatter(c, r, s=14, color='#444444' if v else '#e4e4e4', zorder=2, lw=0)

ax = fig.add_axes(box(6, 1453, 138, 1528))
ax.barh(np.arange(len(l_sets)), l_set_size, height=0.42, color=set_cols)
ax.set_xlim(41.6, -1.9)
ax.set_ylim(2.55, -0.5)
ax.set_yticks([])
ax.set_xticks([40, 30, 20, 10, 0])
ax.tick_params(labelsize=14, color='#999999')
for s in ['top', 'right', 'left']:
    ax.spines[s].set_visible(False)
ax.spines['bottom'].set_color('#aaaaaa')
for r, name in enumerate(l_sets):
    ax.text(1.02, r, name, transform=ax.get_yaxis_transform(), ha='left', va='center', fontsize=13)
ax.text(1.05, -0.07, 'x10$^3$', transform=ax.transAxes, fontsize=14, va='top')
ax.set_xlabel('Set size', fontsize=16, labelpad=6)

# ---- m ----
ax = fig.add_axes(box(547.4, 1275.2, 1152, 1568))
ax.set_xlim(0, 1560)
ax.set_ylim(1445, 0)
ax.axis('off')
for q in range(4):
    ax.add_patch(Polygon(m_cream[q], closed=True, fc='#fde7ca', ec='#c8b8a8', lw=0.6, zorder=1))
    ax.add_patch(Polygon(m_8h[q], closed=True, fc='#c6a9a0', ec='#6e625e', lw=0.7, zorder=2))
    ax.add_patch(Polygon(m_4h[q], closed=True, fc=m_4h_colors[q], ec='none', lw=0, alpha=0.95, zorder=3))
    w, h = m_2h_size[q]
    ax.add_patch(Ellipse(m_2h_center[q], w, h, fc=m_2h_colors[q], ec='#a07060', lw=0.5, alpha=0.95, zorder=4))
    for pos, lab in [(m_label_8h[q], '8h'), (m_label_4h[q], '4h'), (m_label_2h[q], '2h')]:
        ax.text(pos[0], pos[1], lab, ha='center', va='center', fontsize=11, fontweight='bold', zorder=5)
ax.text(420, 385, 'ESRRB', ha='center', va='center', fontsize=34)
ax.text(1180, 370, 'SOX2', ha='center', va='center', fontsize=34)
for xpos, lab in zip([200, 622, 1030, 1450], ['Activated', 'Repressed', 'Activated', 'Repressed']):
    ax.text(xpos, 1300, lab, ha='center', va='center', fontsize=20)

fig.savefig('out.png', dpi=100)
